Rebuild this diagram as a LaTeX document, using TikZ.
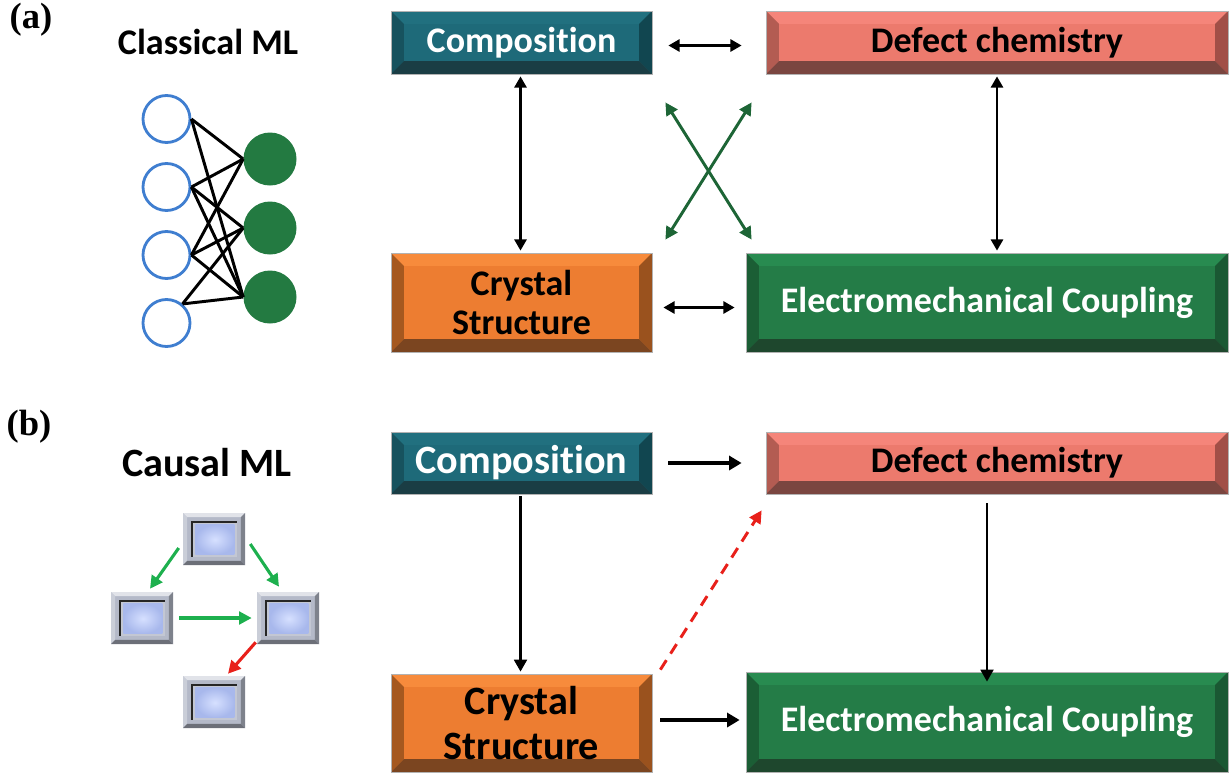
\documentclass[tikz,border=0pt]{standalone}
\usepackage{fontspec}
\setmainfont{Carlito}[Ligatures={NoCommon}]
\newfontfamily\labfont{Liberation Serif}
\usetikzlibrary{arrows.meta}
\usetikzlibrary{calc}
\usetikzlibrary{positioning}

\definecolor{tealC}{HTML}{1E6A79}
\definecolor{tealT}{HTML}{21707F}
\definecolor{tealL}{HTML}{17525E}
\definecolor{tealR}{HTML}{114650}
\definecolor{tealB}{HTML}{1A3D44}
\definecolor{salC}{HTML}{EC7A6D}
\definecolor{salT}{HTML}{F5857A}
\definecolor{salL}{HTML}{B35C52}
\definecolor{salR}{HTML}{A14F47}
\definecolor{salB}{HTML}{7A4640}
\definecolor{orC}{HTML}{ED7D31}
\definecolor{orT}{HTML}{F78B3C}
\definecolor{orL}{HTML}{A5581F}
\definecolor{orR}{HTML}{9A521E}
\definecolor{orB}{HTML}{7B4520}
\definecolor{grC}{HTML}{247C47}
\definecolor{grT}{HTML}{288B50}
\definecolor{grL}{HTML}{1B5E35}
\definecolor{grR}{HTML}{1A5833}
\definecolor{grB}{HTML}{1E472D}
\definecolor{netblue}{HTML}{3F7ED0}
\definecolor{netgreen}{HTML}{237A41}
\definecolor{xgreen}{HTML}{1D6536}
\definecolor{cgreen}{HTML}{1DB04E}
\definecolor{cred}{HTML}{E8201A}
\definecolor{cellmid}{HTML}{B4B9C8}
\definecolor{cellin}{HTML}{D6E0FF}
\definecolor{cellout}{HTML}{A8B8EC}

\newcommand*\pxl{0.025cm}
% four bevel faces inside a path picture: top, left, right, bottom, width
\newcommand\bevelfaces[5]{%
  \path (path picture bounding box.south west) coordinate (bsw)
        (path picture bounding box.north east) coordinate (bne);
  \fill[#1] (bsw |- bne) -- (bne) -- ([shift={(-#5,-#5)}]bne)
    -- ([shift={(#5,-#5)}]bsw |- bne) -- cycle;
  \fill[#2] (bsw |- bne) -- (bsw) -- ([shift={(#5,#5)}]bsw)
    -- ([shift={(#5,-#5)}]bsw |- bne) -- cycle;
  \fill[#3] (bne) -- (bne |- bsw) -- ([shift={(-#5,#5)}]bne |- bsw)
    -- ([shift={(-#5,-#5)}]bne) -- cycle;
  \fill[#4] (bsw) -- (bne |- bsw) -- ([shift={(-#5,#5)}]bne |- bsw)
    -- ([shift={(#5,#5)}]bsw) -- cycle;}

\tikzset{
  panel/.style n args={5}{rectangle, draw=black!30, line width=0.5pt,
    inner sep=0pt, align=center, fill=#1,
    path picture={\bevelfaces{#2}{#3}{#4}{#5}{9.2pt}}},
  comp/.style={panel={tealC}{tealT}{tealL}{tealR}{tealB}, text=white},
  defect/.style={panel={salC}{salT}{salL}{salR}{salB}, text=black},
  crystal/.style={panel={orC}{orT}{orL}{orR}{orB}, text=black},
  electro/.style={panel={grC}{grT}{grL}{grR}{grB}, text=white},
  small/.style={font=\fontsize{25.6}{27.6}\selectfont\bfseries},
  big/.style={font=\fontsize{28.6}{32}\selectfont\bfseries},
  cell/.style={rectangle, inner sep=0pt, fill=cellmid,
    minimum width=62*\pxl, minimum height=52*\pxl,
    path picture={
      \bevelfaces{cellmid!40!white}{cellmid!70!white}{cellmid!70!black}{cellmid!60!black}{3pt}
      \fill[black!85] ([shift={(5.5pt,-5.5pt)}]bsw |- bne)
        rectangle ([shift={(-5.5pt,5.5pt)}]bne |- bsw);
      \fill[cellmid!80!white] ([shift={(7.2pt,-6.8pt)}]bsw |- bne)
        rectangle ([shift={(-5.5pt,5.5pt)}]bne |- bsw);
      \shade[inner color=cellin, outer color=cellout]
        ([shift={(8.8pt,-8.3pt)}]bsw |- bne)
        rectangle ([shift={(-7.5pt,7.5pt)}]bne |- bsw);}},
  inp/.style={circle, draw=netblue, line width=2pt, minimum size=47*\pxl},
  outp/.style={circle, fill=netgreen, minimum size=53*\pxl},
  lab/.style={font=\labfont\bfseries\fontsize{26}{28}\selectfont},
  title/.style={font=\fontsize{25.7}{27}\selectfont\bfseries}
}

\begin{document}
\begin{tikzpicture}[x=\pxl, y=-\pxl,
    >={Triangle[length=9pt,width=10pt]}]

  \useasboundingbox (0,0) rectangle (1230,772);

  % (a) classical
  \node[lab] (labA) at (31,20) {(a)};
  \node[title] (classic) at (208,42) {Classical ML};

  \node[comp, small, minimum width=261*\pxl, minimum height=63*\pxl]
    (compA) at (521.5,42.5) {Composition};
  \node[defect, small, minimum width=462*\pxl, minimum height=63*\pxl]
    (defA) at (997,42.5) {Defect chemistry};
  \node[crystal, small, minimum width=261*\pxl, minimum height=99*\pxl]
    (crysA) at (521.5,302.5) {Crystal\\Structure};
  \node[electro, small, minimum width=482*\pxl, minimum height=99*\pxl]
    (elecA) at (987,302.5) {Electromechanical Coupling};

  \node[inp] (i1) at (166.5,119) {};
  \node[inp] (i2) at (166.5,187) {};
  \node[inp] (i3) at (166.5,255) {};
  \node[inp] (i4) at (166.5,323) {};
  \node[outp] (o1) at (270,159) {};
  \node[outp] (o2) at (270,228) {};
  \node[outp] (o3) at (270,297) {};

  \path[draw, line width=2.1pt]
    (i1.east) edge (o1.west)
    (i1.east) edge (o3.west)
    (i2.east) edge (o1.west)
    (i2.east) edge (o2.west)
    (i2.east) edge (o3.west)
    (i3.east) edge (o1.west)
    (i3.east) edge (o2.west)
    (i3.east) edge (o3.west)
    (i4.50) edge (o2.west)
    (i4.50) edge (o3.west);

  \draw[<->, line width=2pt, >={Triangle[length=8pt,width=8.5pt]}]
    ($(compA.east)+(16,3)$) -- ($(defA.west)+(-24,3)$);
  \draw[<->, line width=2pt, >={Triangle[length=8pt,width=8.5pt]}]
    ($(compA.south)+(-1,2)$) -- ($(crysA.north)+(-1,-2)$);
  \draw[<->, line width=2pt, >={Triangle[length=8pt,width=8.5pt]}]
    ($(defA.south)+(0,2)$) -- ($(defA.south |- elecA.north)+(0,-2)$);
  \draw[<->, line width=2pt, >={Triangle[length=8pt,width=8.5pt]}]
    ($(crysA.east)+(11,5)$) -- ($(elecA.west)+(-11,5)$);
  \draw[<->, xgreen, line width=2.1pt, >={Triangle[length=9pt,width=9pt]}]
    ($(compA.south east)+(13,28)$) -- ($(elecA.north west)+(6,-13)$);
  \draw[<->, xgreen, line width=2.1pt, >={Triangle[length=9pt,width=9pt]}]
    ($(defA.south west)+(-14,28)$) -- ($(crysA.north east)+(13,-13)$);

  % (b) causal
  \node[lab] (labB) at (29,427) {(b)};
  \node[title, font=\fontsize{28.6}{30}\selectfont\bfseries]
    (causal) at (207,463) {Causal ML};

  \node[comp, big, minimum width=261*\pxl, minimum height=62*\pxl]
    (compB) at (521.5,463) {Composition};
  \node[defect, small, minimum width=462*\pxl, minimum height=62*\pxl]
    (defB) at (997,463) {Defect chemistry};
  \node[crystal, big, minimum width=261*\pxl, minimum height=98*\pxl]
    (crysB) at (521.5,723) {Crystal\\Structure};
  \node[electro, small, minimum width=482*\pxl, minimum height=100*\pxl]
    (elecB) at (987,722) {Electromechanical Coupling};

  \node[cell] (c1) at (214,539) {};
  \node[cell] (c2) at (142,618) {};
  \node[cell] (c3) at (288,618) {};
  \node[cell] (c4) at (214,702) {};

  \draw[->, cgreen, line width=2.2pt, >={Triangle[length=9pt,width=9pt]}]
    ($(c1.west)+(-4,9)$) -- ($(c2.north)+(8,-3)$);
  \draw[->, cgreen, line width=2.2pt, >={Triangle[length=9pt,width=9pt]}]
    ($(c1.east)+(5,5)$) -- ($(c3.north)+(-9,-5)$);
  \draw[->, cgreen, line width=2.2pt, >={Triangle[length=9pt,width=9pt]}]
    ($(c2.east)+(6,0)$) -- ($(c3.west)+(-5,0)$);
  \draw[->, cred, line width=2.2pt, >={Triangle[length=9pt,width=9pt]}]
    ($(c3.south west)+(-1,-2)$) -- ($(c4.north)+(14,-2)$);

  \draw[->, line width=2.3pt]
    ($(compB.east)+(16,0)$) -- ($(defB.west)+(-24,0)$);
  \draw[->, line width=2pt, >={Triangle[length=8.5pt,width=9pt]}]
    ($(compB.south)+(-1,2)$) -- ($(crysB.north)+(-1,-2)$);
  \draw[->, line width=2pt, >={Triangle[length=8.5pt,width=9pt]}]
    ($(defB.south)+(-10,9)$) -- ($(elecB.north)+(0,10)$);
  \draw[->, line width=2.3pt]
    ($(crysB.east)+(8,-3)$) -- ($(elecB.west)+(-6,-2)$);
  \draw[->, cred, line width=2.1pt, dash pattern=on 8pt off 5.5pt,
      >={Triangle[length=9pt,width=9pt]}]
    ($(crysB.north east)+(8,-4)$) -- ($(defB.south west)+(-4,16)$);

\end{tikzpicture}
\end{document}
